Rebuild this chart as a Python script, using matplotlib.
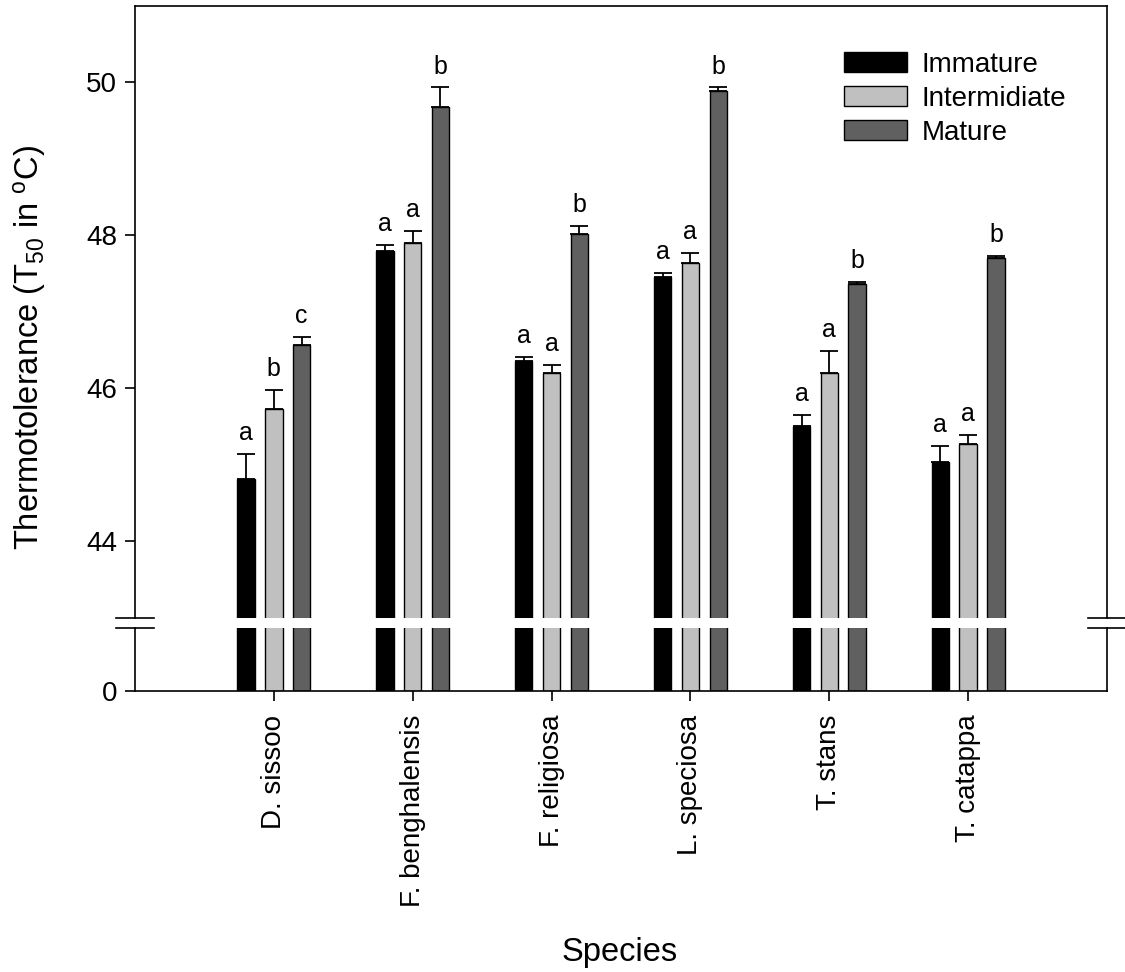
import numpy as np
import matplotlib
matplotlib.use("Agg")
import matplotlib.pyplot as plt
from matplotlib.lines import Line2D

plt.rcParams['font.family'] = ['Liberation Sans', 'DejaVu Sans']
plt.rcParams['mathtext.default'] = 'regular'

# T50 means and standard errors per species and leaf stage
species = ["D. sissoo", "F. benghalensis", "F. religiosa",
           "L. speciosa", "T. stans", "T. catappa"]
stages = ["Immature", "Intermidiate", "Mature"]

immature = [44.82, 47.80, 46.36, 47.46, 45.51, 45.04]
intermediate = [45.73, 47.90, 46.20, 47.64, 46.20, 45.27]
mature = [46.57, 49.68, 48.01, 49.88, 47.36, 47.70]

immature_se = [0.32, 0.07, 0.05, 0.05, 0.14, 0.21]
intermediate_se = [0.25, 0.16, 0.10, 0.13, 0.29, 0.12]
mature_se = [0.10, 0.25, 0.11, 0.05, 0.03, 0.03]

immature_grp = ["a", "a", "a", "a", "a", "a"]
intermediate_grp = ["b", "a", "a", "a", "a", "a"]
mature_grp = ["c", "b", "b", "b", "b", "b"]

colors = ["#000000", "#c0c0c0", "#606060"]

W, H = 1125, 972
fig = plt.figure(figsize=(W / 100, H / 100), dpi=100)

left, right = 135 / W, 1107 / W
ax_top = fig.add_axes([left, 1 - 618 / H, right - left, (618 - 5.5) / H])
ax_bot = fig.add_axes([left, 1 - 691 / H, right - left, (691 - 627.6) / H])

x = np.arange(len(species))
offsets = [-0.2, 0.0, 0.2]
width = 0.125
series = [
    (immature, immature_se, immature_grp),
    (intermediate, intermediate_se, intermediate_grp),
    (mature, mature_se, mature_grp),
]

for i, (vals, se, grp) in enumerate(series):
    xs = x + offsets[i]
    for ax in (ax_top, ax_bot):
        ax.bar(xs, vals, width, color=colors[i], edgecolor="black",
               linewidth=1.0, label=stages[i], zorder=2)
    ax_top.errorbar(xs, vals, yerr=[np.zeros(len(vals)), se], fmt="none",
                    ecolor="black", elinewidth=1.3, capsize=6.5,
                    capthick=1.3, zorder=3)
    for xi, v, e, g in zip(xs, vals, se, grp):
        ax_top.annotate(g, (xi, v + e), xytext=(0, 10),
                        textcoords="offset points", ha="center",
                        va="baseline", fontsize=18)

ax_top.set_ylim(43, 51)
ax_top.set_yticks([44, 46, 48, 50])
ax_bot.set_ylim(0, 1)
ax_bot.set_yticks([0])

for ax in (ax_top, ax_bot):
    ax.set_xlim(-1, 6)
    for sp in ax.spines.values():
        sp.set_linewidth(1.2)
    ax.tick_params(axis="both", direction="out", length=7, width=1.2,
                   labelsize=20)
    ax.tick_params(axis="y", pad=6)

ax_top.spines["bottom"].set_visible(False)
ax_bot.spines["top"].set_visible(False)
ax_top.set_xticks([])
ax_bot.set_xticks(x)
ax_bot.set_xticklabels(species, rotation=90, va="top")
ax_bot.tick_params(axis="x", pad=10)

# axis break marks on both side spines
for xp in (135, 1107):
    for yp in (618, 627.6):
        fig.add_artist(Line2D([(xp - 19) / W, (xp + 19) / W],
                              [1 - yp / H, 1 - yp / H],
                              color="black", linewidth=1.2))

ax_top.legend(loc="upper left", bbox_to_anchor=(844 / W, 1 - 52 / H),
              bbox_transform=fig.transFigure, frameon=False, fontsize=20,
              handlelength=2.25, handleheight=0.75, handletextpad=0.55,
              labelspacing=0.28, borderpad=0, borderaxespad=0)

fig.text(30 / W, 1 - 348 / H, "Thermotolerance (T$_{50}$ in $^{o}$C)",
         rotation=90, ha="center", va="center", fontsize=23.5)
fig.text(620 / W, 1 - 952 / H, "Species", ha="center", va="center",
         fontsize=23.5)

fig.savefig("out.png", dpi=100)
